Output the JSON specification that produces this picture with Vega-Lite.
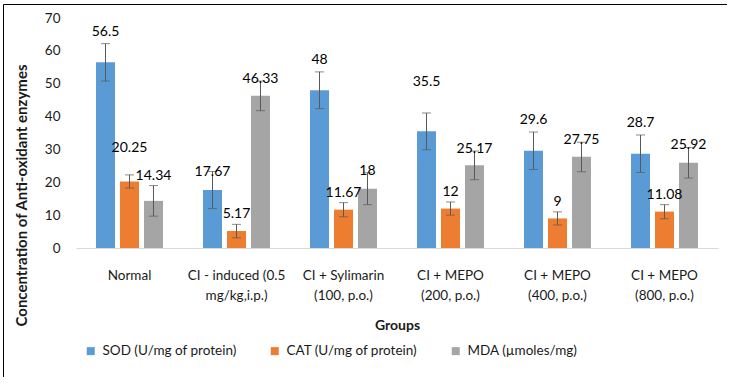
{
  "$schema": "https://vega.github.io/schema/vega-lite/v6.json",
  "autosize": "none",
  "padding": {"left": 3, "top": 4, "right": 0, "bottom": 0},
  "width": 724,
  "height": 373,
  "background": "#ffffff",
  "config": {
    "view": {"stroke": "#000000", "strokeWidth": 1},
    "font": "Lato"
  },
  "data": {
    "values": [
      {"group": "Normal", "series": "SOD (U/mg of protein)", "value": 56.5, "low": 50.8, "high": 62.2, "label": "56.5"},
      {"group": "Normal", "series": "CAT (U/mg of protein)", "value": 20.25, "low": 18.25, "high": 22.25, "label": "20.25"},
      {"group": "Normal", "series": "MDA (µmoles/mg)", "value": 14.34, "low": 9.7, "high": 19.0, "label": "14.34"},
      {"group": "CI - induced (0.5|mg/kg,i.p.)", "series": "SOD (U/mg of protein)", "value": 17.67, "low": 12.0, "high": 23.3, "label": "17.67"},
      {"group": "CI - induced (0.5|mg/kg,i.p.)", "series": "CAT (U/mg of protein)", "value": 5.17, "low": 3.1, "high": 7.2, "label": "5.17"},
      {"group": "CI - induced (0.5|mg/kg,i.p.)", "series": "MDA (µmoles/mg)", "value": 46.33, "low": 41.8, "high": 50.8, "label": "46.33"},
      {"group": "CI + Sylimarin|(100, p.o.)", "series": "SOD (U/mg of protein)", "value": 48, "low": 42.4, "high": 53.6, "label": "48"},
      {"group": "CI + Sylimarin|(100, p.o.)", "series": "CAT (U/mg of protein)", "value": 11.67, "low": 9.5, "high": 13.8, "label": "11.67"},
      {"group": "CI + Sylimarin|(100, p.o.)", "series": "MDA (µmoles/mg)", "value": 18, "low": 13.2, "high": 22.9, "label": "18"},
      {"group": "CI + MEPO|(200, p.o.)", "series": "SOD (U/mg of protein)", "value": 35.5, "low": 29.9, "high": 41.1, "label": "35.5"},
      {"group": "CI + MEPO|(200, p.o.)", "series": "CAT (U/mg of protein)", "value": 12, "low": 10.0, "high": 14.0, "label": "12"},
      {"group": "CI + MEPO|(200, p.o.)", "series": "MDA (µmoles/mg)", "value": 25.17, "low": 20.8, "high": 29.5, "label": "25.17"},
      {"group": "CI + MEPO|(400, p.o.)", "series": "SOD (U/mg of protein)", "value": 29.6, "low": 23.9, "high": 35.3, "label": "29.6"},
      {"group": "CI + MEPO|(400, p.o.)", "series": "CAT (U/mg of protein)", "value": 9, "low": 7.0, "high": 11.0, "label": "9"},
      {"group": "CI + MEPO|(400, p.o.)", "series": "MDA (µmoles/mg)", "value": 27.75, "low": 23.2, "high": 32.2, "label": "27.75"},
      {"group": "CI + MEPO|(800, p.o.)", "series": "SOD (U/mg of protein)", "value": 28.7, "low": 23.0, "high": 34.4, "label": "28.7"},
      {"group": "CI + MEPO|(800, p.o.)", "series": "CAT (U/mg of protein)", "value": 11.08, "low": 8.9, "high": 13.2, "label": "11.08"},
      {"group": "CI + MEPO|(800, p.o.)", "series": "MDA (µmoles/mg)", "value": 25.92, "low": 21.3, "high": 30.6, "label": "25.92"}
    ]
  },
  "encoding": {
    "x": {
      "field": "group",
      "type": "nominal",
      "sort": null,
      "scale": {"range": [73, 715], "paddingInner": 0.374, "paddingOuter": 0.187},
      "axis": {
        "orient": "bottom",
        "offset": -129,
        "title": "Groups",
        "titleFontSize": 14,
        "titleFontWeight": "bold",
        "titleColor": "#1a1a1a",
        "titleBaseline": "middle",
        "titleY": 77,
        "labelExpr": "split(datum.label, '|')",
        "labelAngle": 0,
        "labelFontSize": 13.5,
        "labelColor": "#1a1a1a",
        "labelPadding": 20,
        "labelLineHeight": 20,
        "labelOverlap": false,
        "labelBound": false,
        "labelLimit": 0,
        "ticks": false,
        "domainColor": "#d9d9d9",
        "domainWidth": 1
      }
    },
    "xOffset": {
      "field": "series",
      "type": "nominal",
      "sort": ["SOD (U/mg of protein)", "CAT (U/mg of protein)", "MDA (µmoles/mg)"],
      "scale": {"paddingInner": 0.208, "paddingOuter": 0}
    }
  },
  "layer": [
    {
      "mark": {"type": "bar"},
      "encoding": {
        "y": {
          "field": "value",
          "type": "quantitative",
          "scale": {"domain": [0, 70], "range": [244, 14], "nice": false},
          "axis": {
            "orient": "left",
            "offset": -60,
            "values": [0, 10, 20, 30, 40, 50, 60, 70],
            "grid": false,
            "domain": false,
            "ticks": false,
            "labelPadding": 3,
            "labelFontSize": 13.5,
            "labelColor": "#1a1a1a",
            "title": "Concentration of Anti-oxidant enzymes",
            "titleFontSize": 15,
            "titleFontWeight": "bold",
            "titleColor": "#1a1a1a",
            "titleX": -42,
            "titleY": 191,
            "titleAngle": -90,
            "titleBaseline": "middle",
            "titleAlign": "center"
          }
        },
        "color": {
          "field": "series",
          "type": "nominal",
          "scale": {
            "domain": ["SOD (U/mg of protein)", "CAT (U/mg of protein)", "MDA (µmoles/mg)"],
            "range": ["#5b9bd5", "#ed7d31", "#a5a5a5"]
          },
          "legend": {
            "orient": "none",
            "direction": "horizontal",
            "legendX": 81,
            "legendY": 340,
            "title": null,
            "symbolType": "square",
            "symbolSize": 64,
            "symbolStrokeWidth": 0,
            "labelFontSize": 13.5,
            "labelColor": "#1a1a1a",
            "labelOffset": 5,
            "columnPadding": 31
          }
        }
      }
    },
    {
      "mark": {"type": "rule", "color": "#595959", "strokeWidth": 1},
      "encoding": {
        "y": {"field": "low", "type": "quantitative"},
        "y2": {"field": "high"}
      }
    },
    {
      "mark": {"type": "tick", "color": "#595959", "size": 9, "thickness": 1, "orient": "horizontal"},
      "encoding": {
        "y": {"field": "low", "type": "quantitative"}
      }
    },
    {
      "mark": {"type": "tick", "color": "#595959", "size": 9, "thickness": 1, "orient": "horizontal"},
      "encoding": {
        "y": {"field": "high", "type": "quantitative"}
      }
    },
    {
      "transform": [{"filter": "datum.series == 'SOD (U/mg of protein)' && datum.label != '35.5' && datum.label != '17.67'"}],
      "mark": {"type": "text", "fontSize": 14, "color": "#000000", "baseline": "middle", "dy": -12},
      "encoding": {
        "y": {"field": "high", "type": "quantitative"},
        "text": {"field": "label", "type": "nominal"}
      }
    },
    {
      "transform": [{"filter": "datum.series == 'CAT (U/mg of protein)' && datum.label != '20.25'"}],
      "mark": {"type": "text", "fontSize": 14, "color": "#000000", "baseline": "middle", "dy": -10},
      "encoding": {
        "y": {"field": "high", "type": "quantitative"},
        "text": {"field": "label", "type": "nominal"}
      }
    },
    {
      "transform": [{"filter": "datum.series == 'MDA (µmoles/mg)' && datum.label != '14.34'"}],
      "mark": {"type": "text", "fontSize": 14, "color": "#000000", "baseline": "middle", "dy": -2},
      "encoding": {
        "y": {"field": "high", "type": "quantitative"},
        "text": {"field": "label", "type": "nominal"}
      }
    },
    {
      "transform": [{"filter": "datum.label == '14.34'"}],
      "mark": {"type": "text", "fontSize": 14, "color": "#000000", "baseline": "middle", "dy": -10},
      "encoding": {
        "y": {"field": "high", "type": "quantitative"},
        "text": {"field": "label", "type": "nominal"}
      }
    },
    {
      "transform": [{"filter": "datum.label == '20.25'"}],
      "mark": {"type": "text", "fontSize": 14, "color": "#000000", "baseline": "middle", "dy": -27},
      "encoding": {
        "y": {"field": "high", "type": "quantitative"},
        "text": {"field": "label", "type": "nominal"}
      }
    },
    {
      "transform": [{"filter": "datum.label == '35.5'"}],
      "mark": {"type": "text", "fontSize": 14, "color": "#000000", "baseline": "middle", "dy": -31},
      "encoding": {
        "y": {"field": "high", "type": "quantitative"},
        "text": {"field": "label", "type": "nominal"}
      }
    },
    {
      "transform": [{"filter": "datum.label == '17.67'"}],
      "mark": {"type": "text", "fontSize": 14, "color": "#000000", "baseline": "middle", "dy": 1},
      "encoding": {
        "y": {"field": "high", "type": "quantitative"},
        "text": {"field": "label", "type": "nominal"}
      }
    }
  ]
}
